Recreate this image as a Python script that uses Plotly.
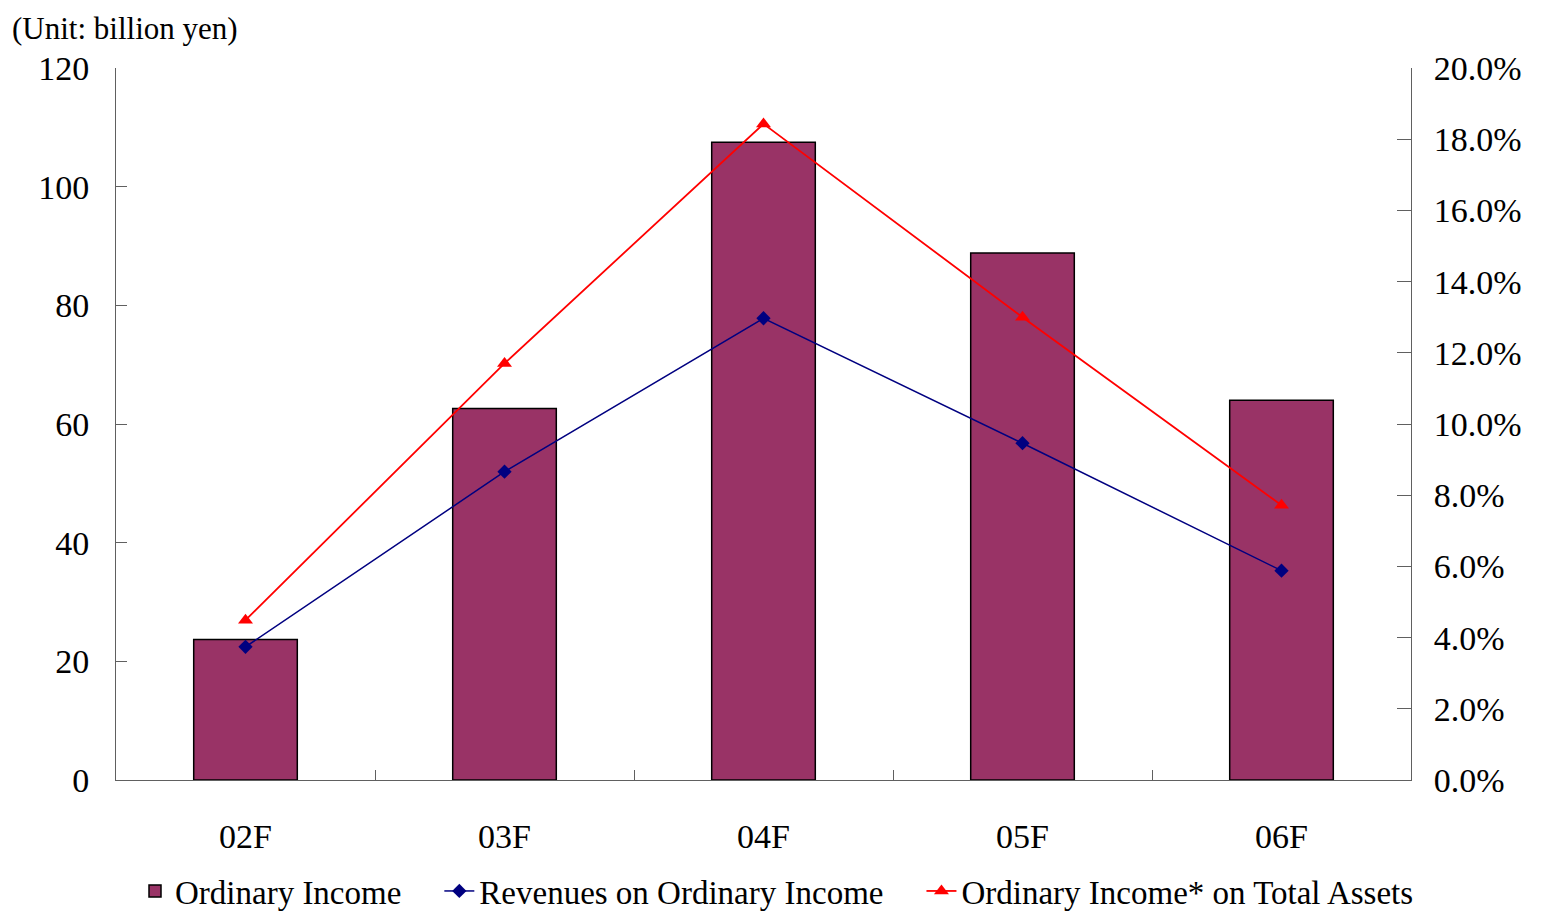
import plotly.graph_objects as go

categories = ["02F", "03F", "04F", "05F", "06F"]
ordinary_income = [23.7, 62.6, 107.5, 88.8, 64.0]
revenues_ratio = [0.0374, 0.0866, 0.1297, 0.0946, 0.0588]
assets_ratio = [0.0449, 0.117, 0.1843, 0.130, 0.0772]
series_names = ["Ordinary Income", "Revenues on Ordinary Income", "Ordinary Income* on Total Assets"]

FONT = "Liberation Serif, Times New Roman, serif"
AX = "#606060"
PAD = "\u00a0" * 4
W, H = 1531, 905

fig = go.Figure()
fig.add_trace(go.Bar(
    x=categories, y=ordinary_income, name=series_names[0] + PAD,
    marker=dict(color="#993366", line=dict(color="#000000", width=1.5)),
    width=0.4, yaxis="y",
))
fig.add_trace(go.Scatter(
    x=categories, y=revenues_ratio, name=series_names[1] + PAD,
    mode="lines+markers", line=dict(color="#000080", width=1.5),
    marker=dict(symbol="diamond", size=11, color="#000080"), yaxis="y2",
))
fig.add_trace(go.Scatter(
    x=categories, y=assets_ratio, name=series_names[2],
    mode="lines+markers", line=dict(color="#FF0000", width=1.8),
    marker=dict(symbol="triangle-up", size=13, color="#FF0000"), yaxis="y2",
))

fig.update_layout(
    width=W, height=H,
    margin=dict(l=108, r=128, t=60, b=133),
    paper_bgcolor="white", plot_bgcolor="white",
    font=dict(family=FONT, size=34, color="black"),
    title=dict(text="(Unit: billion yen)", x=4 / W, xref="container", xanchor="left",
               y=1 - 20 / H, yref="container", yanchor="middle",
               font=dict(family=FONT, size=31, color="black")),
    showlegend=True,
    legend=dict(orientation="h", x=769 / W, xref="container", xanchor="center",
                y=1 - 883 / H, yref="container", yanchor="middle",
                font=dict(family=FONT, size=33, color="black"),
                bgcolor="rgba(0,0,0,0)", traceorder="normal"),
    bargap=0.6,
    xaxis=dict(type="category", showline=True, linecolor=AX, linewidth=1,
               ticks="inside", ticklen=10, tickcolor=AX, tickson="boundaries",
               showgrid=False, tickfont=dict(family=FONT, size=34), zeroline=False,
               ticklabelstandoff=26, automargin=False),
    yaxis=dict(range=[0, 120], dtick=20, showline=True, linecolor=AX, linewidth=1,
               ticks="inside", ticklen=11, tickcolor=AX, showgrid=False, zeroline=False,
               tickfont=dict(family=FONT, size=34), ticklabelstandoff=19, automargin=False),
    yaxis2=dict(range=[0, 0.2], dtick=0.02, tickformat=".1%", overlaying="y", side="right",
                showline=True, linecolor=AX, linewidth=1, ticks="inside", ticklen=14,
                tickcolor=AX, showgrid=False, zeroline=False,
                tickfont=dict(family=FONT, size=34), ticklabelstandoff=15, automargin=False),
)

fig.write_html("out.html")
